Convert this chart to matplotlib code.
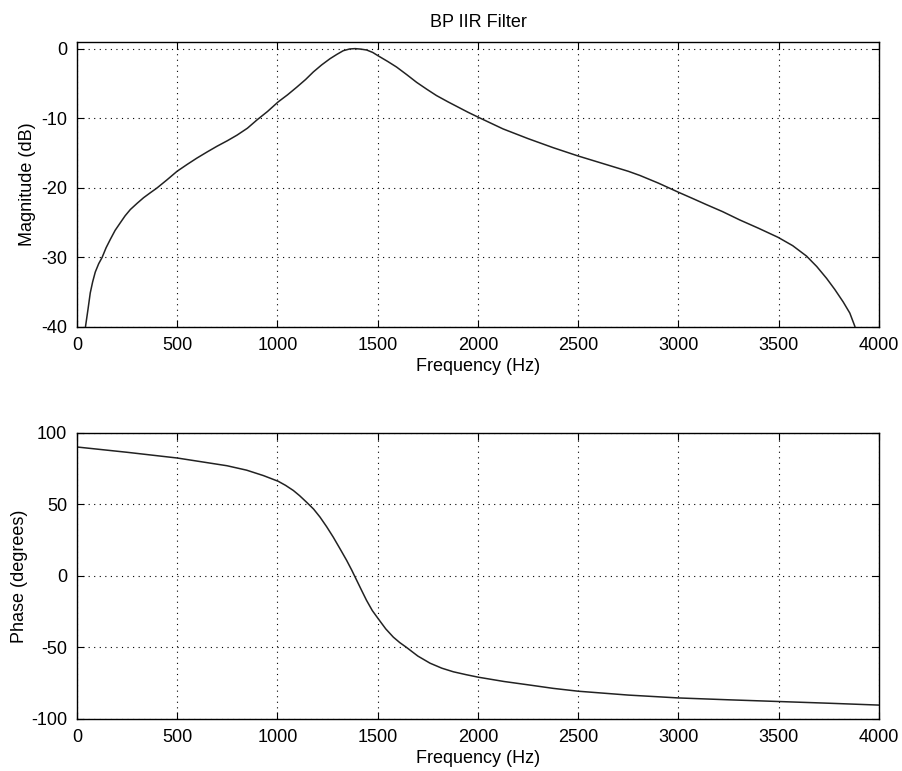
import matplotlib
matplotlib.use("Agg")
import matplotlib.pyplot as plt

plt.rcParams['font.family'] = ['Liberation Sans', 'DejaVu Sans']
plt.rcParams['axes.unicode_minus'] = False

# Magnitude response
mag_freq = [42, 55, 66, 78, 91, 108, 125, 145, 166, 190, 216, 240, 266, 300, 332, 365, 399,
            450, 499, 550, 598, 650, 698, 750, 798, 850, 898, 950, 1004, 1050, 1096, 1140,
            1179, 1220, 1262, 1295, 1328, 1360, 1387, 1415, 1445, 1475, 1503, 1550, 1594,
            1645, 1694, 1745, 1793, 1850, 1910, 1950, 2000, 2125, 2250, 2375, 2500, 2625,
            2750, 2808, 2900, 2999, 3070, 3140, 3220, 3306, 3400, 3497, 3570, 3639, 3690,
            3739, 3780, 3822, 3855, 3880]
mag_db = [-40.0, -37.4, -35.1, -33.5, -32.1, -30.9, -30.0, -28.6, -27.4, -26.1, -25.0, -24.0,
          -23.1, -22.2, -21.4, -20.7, -20.0, -18.8, -17.6, -16.6, -15.7, -14.8, -14.0, -13.2,
          -12.4, -11.4, -10.2, -9.0, -7.6, -6.6, -5.5, -4.4, -3.3, -2.3, -1.4, -0.8, -0.25,
          0.0, 0.05, -0.02, -0.15, -0.5, -1.0, -1.8, -2.6, -3.7, -4.8, -5.8, -6.7, -7.6,
          -8.5, -9.1, -9.8, -11.5, -12.9, -14.2, -15.4, -16.5, -17.6, -18.2, -19.3, -20.6,
          -21.5, -22.4, -23.4, -24.6, -25.8, -27.1, -28.3, -29.8, -31.3, -33.0, -34.6,
          -36.4, -38.0, -39.9]

# Phase response
ph_freq = [0, 250, 500, 748, 846, 930, 1004, 1040, 1079, 1110, 1145, 1180, 1212, 1245, 1278,
           1312, 1345, 1370, 1395, 1420, 1444, 1473, 1503, 1540, 1578, 1610, 1644, 1700,
           1761, 1820, 1877, 1940, 2002, 2130, 2259, 2375, 2500, 2750, 3000, 3250, 3500,
           3750, 4000]
ph_deg = [90.2, 86.5, 82.5, 77.1, 74.0, 70.2, 66.2, 63.4, 59.8, 56.2, 51.6, 46.8, 41.2,
          34.5, 27.2, 19.0, 10.9, 4.2, -3.0, -10.2, -17.0, -24.2, -30.0, -37.0, -42.8,
          -46.6, -50.0, -56.0, -61.0, -64.5, -67.0, -69.0, -70.8, -73.8, -76.3, -78.6,
          -80.6, -83.3, -85.3, -86.6, -87.8, -89.0, -90.3]

x_ticks = [0, 500, 1000, 1500, 2000, 2500, 3000, 3500, 4000]

fig = plt.figure(figsize=(9.03, 7.71), dpi=100)
ax1 = fig.add_axes([0.0853, 0.5759, 0.888, 0.3696])
ax2 = fig.add_axes([0.0853, 0.0675, 0.888, 0.3709])

for ax in (ax1, ax2):
    ax.set_xlim(0, 4000)
    ax.set_xticks(x_ticks)
    ax.grid(True, color='black', linestyle=(0, (1, 4)), linewidth=0.8)
    ax.tick_params(direction='in', top=True, right=True, length=5, labelsize=13,
                   colors='black', pad=7)
    for s in ax.spines.values():
        s.set_linewidth(1.0)
    ax.set_xlabel('Frequency (Hz)', fontsize=13, labelpad=3)

ax1.plot(mag_freq, mag_db, color='#222222', linewidth=1.1)
ax1.set_ylim(-40, 1)
ax1.set_yticks([-40, -30, -20, -10, 0])
ax1.set_ylabel('Magnitude (dB)', fontsize=13, labelpad=4)
ax1.set_title('BP IIR Filter', fontsize=13, pad=11)

ax2.plot(ph_freq, ph_deg, color='#222222', linewidth=1.1)
ax2.set_ylim(-100, 100)
ax2.set_yticks([-100, -50, 0, 50, 100])
ax2.set_ylabel('Phase (degrees)', fontsize=13, labelpad=2)

fig.savefig('out.png', dpi=100)
